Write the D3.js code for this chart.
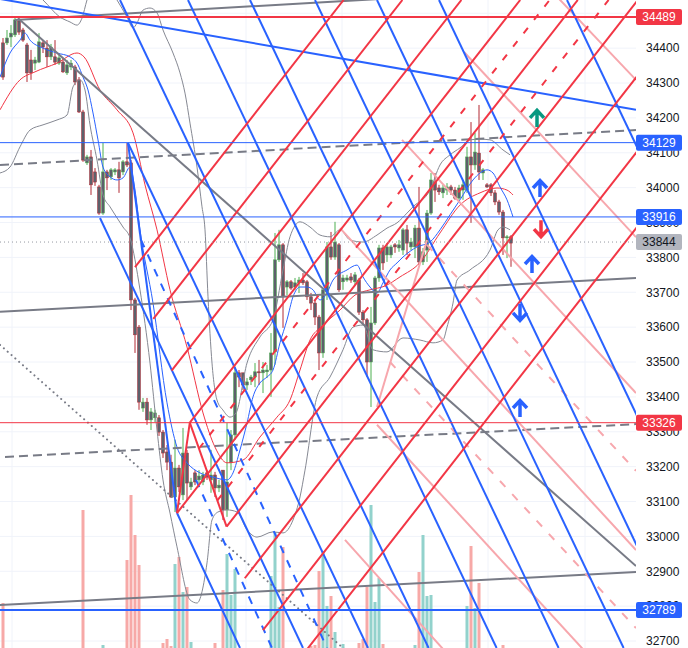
<!DOCTYPE html>
<html>
<head>
<meta charset="utf-8">
<script src="https://cdn.jsdelivr.net/npm/d3@7"></script>
<style>
  html, body { margin: 0; padding: 0; background: #ffffff; }
  svg { display: block; }
</style>
</head>
<body>
<div id="chart-container"></div>
<script>
// ---- candles (bar index = position + 1) ----
const opens = [34415,34415,34432,34438,34478,34452,34409,34366,34357,34360,
34415,34400,34375,34375,34357,34360,34329,34346,34346,34309,
34217,34071,34088,34045,34002,33927,34045,34031,34045,34051,
34045,34074,34071,33678,33600,33368,33385,33334,33340,33340,
33299,33242,33213,33113,33196,33119,33239,33142,33182,33162,
33156,33182,33162,33176,33139,33190,33076,33211,33291,33469,
33469,33434,33449,33457,33472,33469,33472,33477,33529,33793,
33836,33715,33730,33715,33727,33735,33730,33687,33669,33629,
33526,33701,33830,33801,33836,33730,33735,33744,33730,33735,
33643,33621,33500,33612,33741,33827,33807,33807,33836,33827,
33821,33879,33830,33830,33884,33787,33821,33927,34016,33999,
33985,33993,34002,33993,33970,33993,33993,34088,34065,34099,
34042,34008,34008,33985,33959,33930,33856,33859];
const highs = [34429,34452,34466,34489,34484,34458,34415,34395,34375,34443,
34423,34423,34412,34423,34380,34372,34366,34366,34352,34317,
34223,34094,34108,34056,34008,34128,34051,34056,34056,34074,
34079,34128,34079,33684,33606,33397,33397,33368,33363,33348,
33305,33262,33234,33277,33205,33311,33248,33168,33190,33190,
33185,33190,33248,33185,33162,33190,33325,33305,33486,33477,
33469,33454,33463,33497,33506,33500,33492,33583,33870,33879,
33841,33735,33735,33741,33744,33755,33735,33698,33678,33635,
33707,33844,33873,33902,33841,33750,33750,33755,33758,33741,
33649,33626,33658,33747,33836,33836,33841,33836,33841,33850,
33884,33893,33856,33893,34002,33827,33936,34042,34042,34008,
34008,34013,34008,34002,34008,34022,34117,34188,34157,34237,
34056,34013,34013,33993,33965,33936,33864,33864];
const lows = [34309,34409,34403,34432,34438,34418,34303,34309,34337,34357,
34386,34346,34366,34352,34352,34329,34323,34337,34294,34214,
34074,34065,33979,34005,33922,33922,33993,34022,34036,33985,
34036,34059,33649,33526,33363,33357,33320,33305,33328,33288,
33225,33190,33110,33070,33127,33104,33104,33133,33147,33153,
33147,33162,33125,33113,33127,33047,33056,33190,33277,33428,
33420,33420,33434,33428,33434,33411,33454,33400,33492,33787,
33598,33692,33707,33707,33698,33721,33678,33649,33606,33477,
33512,33678,33793,33793,33701,33707,33730,33727,33721,33635,
33606,33457,33371,33606,33730,33764,33787,33798,33813,33816,
33807,33807,33821,33798,33778,33778,33787,33922,33959,33979,
33970,33979,33979,33965,33965,33965,33985,33899,34051,34022,
34022,33999,33976,33950,33922,33807,33798,33773];
const closes = [34317,34429,34443,34481,34446,34423,34329,34329,34366,34418,
34403,34375,34403,34360,34372,34332,34352,34357,34303,34217,
34079,34088,34008,34016,33927,34045,34028,34051,34051,34028,
34074,34065,33678,33578,33385,33385,33334,33357,33354,33299,
33239,33213,33113,33196,33142,33239,33153,33156,33156,33173,
33176,33170,33176,33139,33147,33076,33156,33291,33469,33457,
33434,33443,33457,33472,33469,33477,33477,33526,33793,33836,
33687,33730,33712,33727,33735,33727,33687,33669,33629,33526,
33707,33830,33801,33844,33707,33741,33741,33735,33750,33643,
33621,33500,33612,33741,33827,33784,33830,33830,33830,33836,
33879,33841,33844,33884,33787,33816,33927,34022,33993,33988,
33999,34002,33993,33970,33999,34008,34088,34065,34102,34045,
34051,34002,33985,33959,33930,33856,33859,33841];
const volumes = [57,6,6,6,6,6,6,6,6,6,
6,6,6,6,6,6,6,6,6,6,
150,6,6,6,6,15,6,6,6,6,
6,100,165,125,95,6,6,6,6,6,
17,21,14,96,103,68,73,18,6,6,
6,6,6,17,6,70,106,65,91,6,
6,6,6,6,6,6,6,84,128,53,
113,6,6,6,6,6,6,14,15,89,
109,54,64,28,6,16,6,6,6,17,
21,73,155,58,82,16,6,6,6,6,
6,6,6,15,88,125,64,65,6,6,
6,6,6,6,6,6,54,114,52,77,
6,6,6,6,6,15,6,6];

// ---- indicator curves [bar index, price] ----
const bbUpper = [[0.25,34624],[5.25,34595],[11,34538],[15.25,34489],[17.75,34475],[19.5,34466],[20.75,34486],[22,34538],
[25.25,34610],[29.5,34538],[32,34489],[33.5,34458],[34.5,34472],[36,34509],[37.75,34515],[39.5,34501],[41,34452],
[43.5,34386],[45.25,34329],[46.5,34271],[47.75,34185],[49.5,34059],[50.75,33945],[51.5,33879],[52.25,33687],
[53.25,33497],[54.5,33391],[56,33362],[57.75,33342],[59.25,33354],[62,33497],[65.25,33572],[68.5,33621],[71,33764],
[72.75,33859],[75.25,33902],[77.75,33887],[80.25,33864],[82.75,33859],[85.25,33879],[87.75,33850],[91,33844],
[94.5,33864],[97,33884],[99.5,33899],[102,33927],[103.5,33945],[107.75,33993],[110.25,34065],[112.75,34094],
[115.25,34114],[117.75,34137],[120.25,34139],[122.75,34137],[126,34108],[127.75,34094]];
const bbLower = [[0.25,34042],[2.75,34059],[5.25,34117],[7.75,34165],[11,34180],[14.5,34194],[17,34208],[18.5,34289],
[20.25,34309],[21.5,34280],[22.75,34180],[24.5,34079],[26,33979],[27.75,33945],[31,33887],[32.75,33856],[35.25,33707],
[37.75,33497],[39.5,33305],[41,33162],[42.75,33067],[44.5,32970],[47.75,32818],[49.5,32809],[52,32924],[53.25,33047],
[54.75,33070],[57,33076],[59.5,33070],[62,33019],[64.5,32998],[68.5,33013],[71,33010],[73.5,33047],[75.25,33113],
[76.5,33190],[79.5,33400],[82.75,33457],[86,33535],[88.5,33600],[91,33606],[93.5,33535],[97,33529],[101,33569],
[105.25,33563],[108.5,33555],[111,33563],[112,33600],[113.5,33669],[114.5,33735],[117.75,33764],[122.75,33821],
[124.75,33879],[126,33887],[127.75,33879]];
const maRed = [[0.25,34223],[5.25,34309],[9,34332],[14.5,34357],[19.5,34386],[21.25,34375],[25.25,34280],[29.5,34223],
[33.5,34157],[36.5,34008],[39.5,33879],[42.75,33707],[47,33543],[51,33354],[54,33256],[57,33211],[61,33219],
[65.25,33285],[69.5,33342],[72.75,33391],[75.25,33477],[77.75,33563],[80.75,33603],[85.25,33649],[89,33692],
[92.75,33707],[96.5,33718],[100.25,33744],[105.25,33785],[110.25,33870],[115.25,33950],[120.25,33985],
[124.5,33999],[127,33993],[128.5,33979]];
const maBlue = [[0.25,34317],[2.75,34386],[5.25,34423],[6.5,34443],[7.75,34423],[11,34400],[14.5,34386],[17.75,34375],
[19.75,34352],[21,34317],[22.25,34280],[23.5,34214],[24.75,34137],[26,34059],[27.75,34031],[29.5,34022],[31,34028],
[32.75,34059],[34,33993],[35.25,33879],[38.5,33669],[42,33383],[44.5,33256],[47,33211],[50.25,33182],[53.5,33170],
[57,33162],[58.5,33182],[60.25,33248],[62,33325],[63.5,33400],[65.25,33440],[67,33457],[68.5,33477],[70.25,33555],
[72,33621],[73.5,33687],[75.25,33715],[77,33715],[78.5,33707],[80.25,33678],[82,33698],[83.5,33735],[87,33764],
[89.5,33778],[91,33744],[92.75,33715],[94.5,33698],[96,33727],[97.75,33764],[99.5,33784],[101,33801],[104.5,33830],
[107.75,33844],[110.25,33879],[112.75,33922],[115.25,33965],[118.5,34022],[120.25,34042],[122,34051],[123.5,34042],
[125.25,34002],[127,33965],[128.5,33916]];

// ---- drawings [bar1, price1, bar2, price2] ----
const blueSolid = [
  [0.25,34541,159.25,34223],
  [30.25,34538,107.4,32680],[47.25,34538,124.4,32680],[62.75,34538,139.9,32680],
  [79,34538,156.15,32680],[94.5,34538,171.65,32680],[110,34538,187.15,32680],[142,34538,219.15,32680],
  [25.25,33913,76,32680],[32.25,34128,92.25,32680],[44.5,33067,60.25,32680],[32.25,34128,44.5,33067]
];
const blueDashed = [[35.5,33850,82,32680],[49.25,33162,68.25,32680]];
const redSolid = [
  [34,33772,86.15,34538],[38.58,33624,100.85,34538],[43.15,33475,115.6,34538],[47.7,33326,130.3,34538],
  [44.5,33067,144.7,34538],[56.9,33028,159.7,34538],[61.45,32880,174.4,34538],[66,32731,189.1,34538],
  [70.6,32582,203.85,34538],[44.5,33067,47.7,33326],[47.7,33326,56.9,33028]
];
const redDashed = [[50,33252,137.65,34538],[54.6,33103,152.4,34538]];
const pinkSolid = [
  [131.75,34641,159.25,34309],[116.25,34389,159.25,33858],[100.75,34137,159.25,33411],
  [85.25,33884,159.25,32961],[94.5,33320,159.25,32511],[86.5,32990,159.25,32061],[94.5,33371,107,33850]
];
const pinkDashed = [[107,33836,159.25,33188],[97.75,33500,159.25,32737]];
const greySolid = [
  [4,34481,159.25,34583],[4.75,34486,159.25,32915],[0.25,33644,159.25,33741],[0.25,32803,159.25,32898]
];
const greyDashed = [[0.25,34065,159.25,34165],[1.5,33228,159.25,33322]];
const greyDotted = [[0.25,33549,86.5,32675]];

// ---- levels, arrows, ticks ----
const redLevels = [34489, 33326];
const blueLevels = [34129, 33916, 32789];
const lastPrice = 33844;
const tealUp = [[134.5,34200]];
const blueUp = [[135.25,33999],[133.25,33781],[130.25,33368]];
const blueDown = [[130.25,33641]];
const redDown = [[135.5,33881]];
const tickValues = [32700,32800,32900,33000,33100,33200,33300,33400,33500,33600,
  33700,33800,33900,34000,34100,34200,34300,34400,34500];
const timeGrid = [3.25, 61.75, 85.75, 122.25, 146.5];

const width = 688;
const height = 648;
const plotW = 636;

const xScale = d3.scaleLinear().domain([0, 160]).range([-1, 639]);
const yScale = d3.scaleLinear().domain([32680, 34538]).range([height, 0]);
const volScale = d3.scaleLinear().domain([0, 200]).range([660, 460]);

const svg = d3.select('#chart-container')
  .append('svg')
  .attr('width', width)
  .attr('height', height);

svg.append('defs')
  .append('clipPath')
  .attr('id', 'plot-clip')
  .append('rect')
  .attr('width', plotW)
  .attr('height', height);

const plot = svg.append('g').attr('clip-path', 'url(#plot-clip)');

// grid
plot.append('g')
  .selectAll('line')
  .data(tickValues)
  .join('line')
  .attr('x1', 0).attr('x2', plotW)
  .attr('y1', d => yScale(d)).attr('y2', d => yScale(d))
  .attr('stroke', '#f0f3fa');
plot.append('g')
  .selectAll('line')
  .data(timeGrid)
  .join('line')
  .attr('x1', d => xScale(d)).attr('x2', d => xScale(d))
  .attr('y1', 0).attr('y2', height)
  .attr('stroke', '#f0f3fa');

const bars = closes.map((c, i) => ({
  i: i + 1, o: opens[i], h: highs[i], l: lows[i], c: c, v: volumes[i], up: c >= opens[i]
}));

// volume
plot.append('g')
  .selectAll('rect')
  .data(bars)
  .join('rect')
  .attr('x', d => xScale(d.i) - 1.5)
  .attr('width', 3)
  .attr('y', d => volScale(d.v))
  .attr('height', d => volScale(0) - volScale(d.v))
  .attr('fill', d => d.up ? '#92d2cc' : '#f7a9a7');

// candles
const candle = plot.append('g')
  .selectAll('g')
  .data(bars)
  .join('g');
candle.append('line')
  .attr('x1', d => xScale(d.i)).attr('x2', d => xScale(d.i))
  .attr('y1', d => yScale(d.h)).attr('y2', d => yScale(d.l))
  .attr('stroke', d => d.up ? '#4caf50' : '#b22833')
  .attr('stroke-width', 1);
candle.append('rect')
  .attr('x', d => xScale(d.i) - 1.5)
  .attr('width', 3)
  .attr('y', d => yScale(Math.max(d.o, d.c)))
  .attr('height', d => Math.max(1, Math.abs(yScale(d.o) - yScale(d.c))))
  .attr('fill', '#5d606b')
  .attr('stroke', d => d.up ? '#4caf50' : '#b22833')
  .attr('stroke-width', 0.5);

// indicators
const curve = d3.line()
  .x(d => xScale(d[0]))
  .y(d => yScale(d[1]))
  .curve(d3.curveMonotoneX);
[[bbUpper, '#868993'], [bbLower, '#868993'], [maRed, '#f23645'], [maBlue, '#2962ff']].forEach(([data, color]) => {
  plot.append('path')
    .datum(data)
    .attr('fill', 'none')
    .attr('stroke', color)
    .attr('stroke-width', 1)
    .attr('d', curve);
});

// drawings
const drawLines = (data, color, w, dash, cap) => {
  plot.append('g')
    .selectAll('line')
    .data(data)
    .join('line')
    .attr('x1', d => xScale(d[0])).attr('y1', d => yScale(d[1]))
    .attr('x2', d => xScale(d[2])).attr('y2', d => yScale(d[3]))
    .attr('stroke', color)
    .attr('stroke-width', w)
    .attr('stroke-dasharray', dash)
    .attr('stroke-linecap', cap || 'butt');
};
drawLines(greySolid, '#787b86', 2, null);
drawLines(greyDashed, '#787b86', 2, '9,5');
drawLines(greyDotted, '#787b86', 2, '0.1,5', 'round');
drawLines(pinkSolid, '#f7a7ad', 2, null);
drawLines(pinkDashed, '#f7a7ad', 2, '8,10');
drawLines(blueSolid, '#2962ff', 2, null);
drawLines(blueDashed, '#2962ff', 2, '8,8');
drawLines(redSolid, '#f23645', 2, null);
drawLines(redDashed, '#f23645', 2, '7,10');

// horizontal levels
const levelLine = (price, color, w, dash) => {
  plot.append('line')
    .attr('x1', 0).attr('x2', plotW)
    .attr('y1', yScale(price)).attr('y2', yScale(price))
    .attr('stroke', color)
    .attr('stroke-width', w)
    .attr('stroke-dasharray', dash);
};
levelLine(redLevels[0], '#f23645', 2, null);
levelLine(redLevels[1], '#f23645', 1, null);
levelLine(blueLevels[0], '#2962ff', 1, null);
levelLine(blueLevels[1], '#2962ff', 1, null);
levelLine(blueLevels[2], '#2962ff', 2, null);
levelLine(lastPrice, '#9598a1', 1, '1,3');

// arrows
const arrows = (data, color, down) => {
  plot.append('g')
    .selectAll('path')
    .data(data)
    .join('path')
    .attr('transform', d => `translate(${xScale(d[0])},${yScale(d[1])})${down ? ' rotate(180)' : ''}`)
    .attr('d', 'M0,9L0,-7M-7,0L0,-7.5L7,0')
    .attr('fill', 'none')
    .attr('stroke', color)
    .attr('stroke-width', 3.5)
    .attr('stroke-linejoin', 'miter');
};
arrows(tealUp, '#089981', false);
arrows(blueUp, '#2962ff', false);
arrows(blueDown, '#2962ff', true);
arrows(redDown, '#f23645', true);

// price axis
const axis = svg.append('g')
  .attr('transform', `translate(${plotW},0)`)
  .call(d3.axisRight(yScale).tickValues(tickValues).tickSize(0).tickPadding(10).tickFormat(d3.format('d')));
axis.select('.domain').remove();
axis.selectAll('text')
  .attr('font-family', "'Liberation Sans', Arial, sans-serif")
  .attr('font-size', 12)
  .attr('fill', '#131722');

// level labels
const labels = [
  ...redLevels.map(p => ({ p: p, bg: '#f23645', fg: '#ffffff' })),
  ...blueLevels.map(p => ({ p: p, bg: '#2962ff', fg: '#ffffff' })),
  { p: lastPrice, bg: '#b2b5be', fg: '#131722' }
];
const label = svg.append('g')
  .selectAll('g')
  .data(labels)
  .join('g')
  .attr('transform', d => `translate(${plotW},${yScale(d.p)})`);
label.append('rect')
  .attr('x', 0).attr('y', -8)
  .attr('width', 46).attr('height', 16)
  .attr('rx', 2)
  .attr('fill', d => d.bg);
label.append('text')
  .attr('x', 23).attr('y', 0)
  .attr('dy', '0.35em')
  .attr('text-anchor', 'middle')
  .attr('font-family', "'Liberation Sans', Arial, sans-serif")
  .attr('font-size', 12)
  .attr('fill', d => d.fg)
  .text(d => d.p);
</script>
</body>
</html>
